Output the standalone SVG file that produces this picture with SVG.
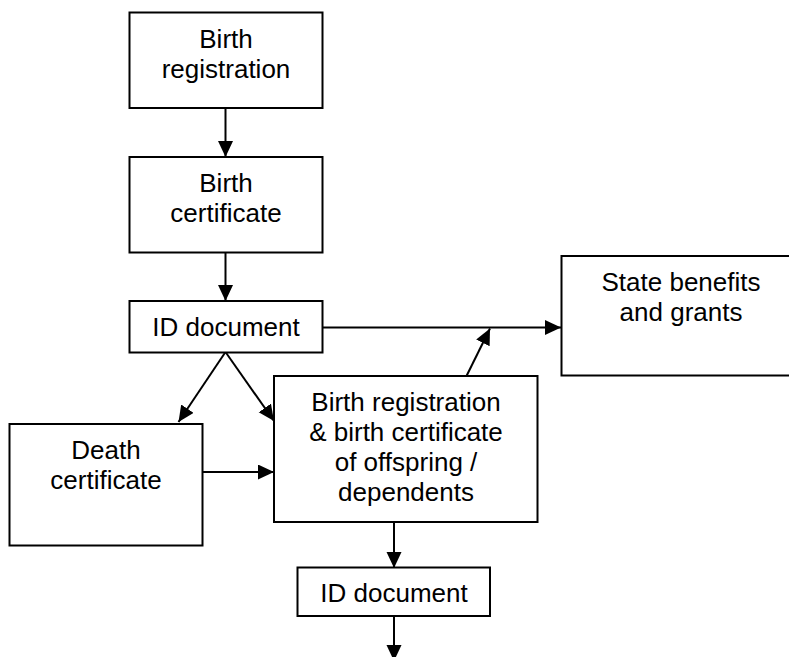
<svg xmlns="http://www.w3.org/2000/svg" width="789" height="657" viewBox="0 0 789 657">
<defs>
<marker id="arr" markerUnits="userSpaceOnUse" markerWidth="18" markerHeight="18" refX="16" refY="7.5" orient="auto">
<path d="M0,0 L16,7.5 L0,15 z" fill="#000"/>
</marker>
<style>
.box{fill:#fff;stroke:#000;stroke-width:2}
.t{font-family:"Liberation Sans",Arial,sans-serif;font-size:26px;fill:#000;text-anchor:middle}
.c{stroke:#000;stroke-width:2;fill:none;marker-end:url(#arr)}
</style>
</defs>
<rect width="789" height="657" fill="#fff"/>
<g id="connectors">
<line class="c" x1="225.5" y1="108" x2="225.5" y2="157"/>
<line class="c" x1="225.5" y1="253" x2="225.5" y2="301"/>
<line class="c" x1="322" y1="327.5" x2="561" y2="327.5"/>
<line class="c" x1="466.5" y1="376" x2="490" y2="328.5"/>
<line class="c" x1="225.5" y1="352" x2="178.5" y2="422"/>
<line class="c" x1="225.5" y1="352" x2="274" y2="421"/>
<line class="c" x1="202" y1="472" x2="274" y2="472"/>
<line class="c" x1="394" y1="522" x2="394" y2="568"/>
<line class="c" x1="394" y1="616" x2="394" y2="661"/>
</g>
<g id="birth-registration">
<rect class="box" x="129.5" y="12.5" width="193" height="95.5"/>
<text class="t" x="226" y="48">Birth</text>
<text class="t" x="226" y="78">registration</text>
</g>
<g id="birth-certificate">
<rect class="box" x="129.5" y="157" width="193" height="95.5"/>
<text class="t" x="226" y="192">Birth</text>
<text class="t" x="226" y="222">certificate</text>
</g>
<g id="id-document">
<rect class="box" x="129.5" y="301" width="193" height="51.5"/>
<text class="t" x="226" y="335.5">ID document</text>
</g>
<g id="state-benefits">
<rect class="box" x="561.5" y="256" width="240" height="119.5"/>
<text class="t" x="681" y="291">State benefits</text>
<text class="t" x="681" y="321">and grants</text>
</g>
<g id="death-certificate">
<rect class="box" x="9.5" y="424" width="193" height="121.5"/>
<text class="t" x="106" y="459">Death</text>
<text class="t" x="106" y="489">certificate</text>
</g>
<g id="offspring-registration">
<rect class="box" x="274" y="376" width="263.5" height="146"/>
<text class="t" x="406" y="411">Birth registration</text>
<text class="t" x="406" y="441">&amp; birth certificate</text>
<text class="t" x="406" y="471">of offspring /</text>
<text class="t" x="406" y="501">dependents</text>
</g>
<g id="id-document-2">
<rect class="box" x="297.5" y="567.5" width="192.5" height="48.5"/>
<text class="t" x="394" y="601.5">ID document</text>
</g>
</svg>
